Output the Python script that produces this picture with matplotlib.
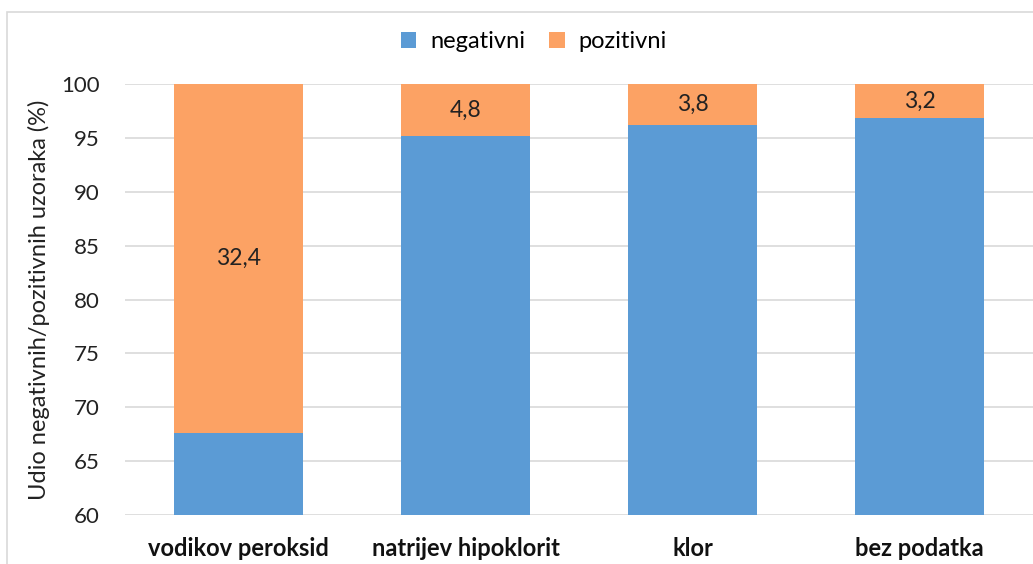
import numpy as np
import matplotlib.pyplot as plt
from matplotlib.patches import Rectangle

categories = ["vodikov peroksid", "natrijev hipoklorit", "klor", "bez podatka"]
pozitivni = [32.4, 4.8, 3.8, 3.2]
negativni = [100 - p for p in pozitivni]

blue = "#5B9BD5"
orange = "#FCA264"

plt.rcParams["font.family"] = ["Lato", "DejaVu Sans"]

fig = plt.figure(figsize=(10.33, 5.64), dpi=100)
ax = fig.add_axes([125 / 1033, 1 - 515 / 564, 908 / 1033, 431 / 564])

x = np.arange(len(categories))
ax.bar(x, negativni, width=0.565, color=blue, label="negativni", zorder=2)
ax.bar(x, pozitivni, width=0.565, bottom=negativni, color=orange, label="pozitivni", zorder=2)

# value labels in the middle of the orange part
for i in range(len(categories)):
    ax.text(x[i], negativni[i] + pozitivni[i] / 2, f"{pozitivni[i]:.1f}".replace(".", ","),
            ha="center", va="center", fontsize=16.5, color="#222222", zorder=3)

ax.set_xlim(-0.5, 3.5)
ax.set_ylim(60, 100)
ax.set_yticks(range(60, 101, 5))
ax.yaxis.grid(True, color="#D9D9D9", linewidth=1.2, zorder=0)
ax.set_axisbelow(True)
for s in ax.spines.values():
    s.set_visible(False)
ax.tick_params(axis="both", length=0)
ax.tick_params(axis="y", labelsize=16, pad=18, labelcolor="#222222")
ax.set_xticks(x)
ax.set_xticklabels(categories, fontsize=17, fontweight="bold", color="#111111")
ax.tick_params(axis="x", pad=16)
ax.set_ylabel("Udio negativnih/pozitivnih uzoraka (%)", fontsize=17, color="#222222")
ax.yaxis.set_label_coords(-0.083, 0.5)

fig.legend(loc="center", bbox_to_anchor=(534 / 1033, 1 - 42 / 564), ncol=2, frameon=False,
           fontsize=17, handlelength=0.65, handleheight=0.65, columnspacing=1.0, handletextpad=0.6)

# light frame of the chart area (right and bottom edges fall outside)
fig.patches.append(Rectangle((7 / 1033, -0.1), 1.2, 1 - 12 / 564 + 0.1, transform=fig.transFigure,
                             fill=False, edgecolor="#D9D9D9", linewidth=1.2))

fig.savefig("out.png", dpi=100)
